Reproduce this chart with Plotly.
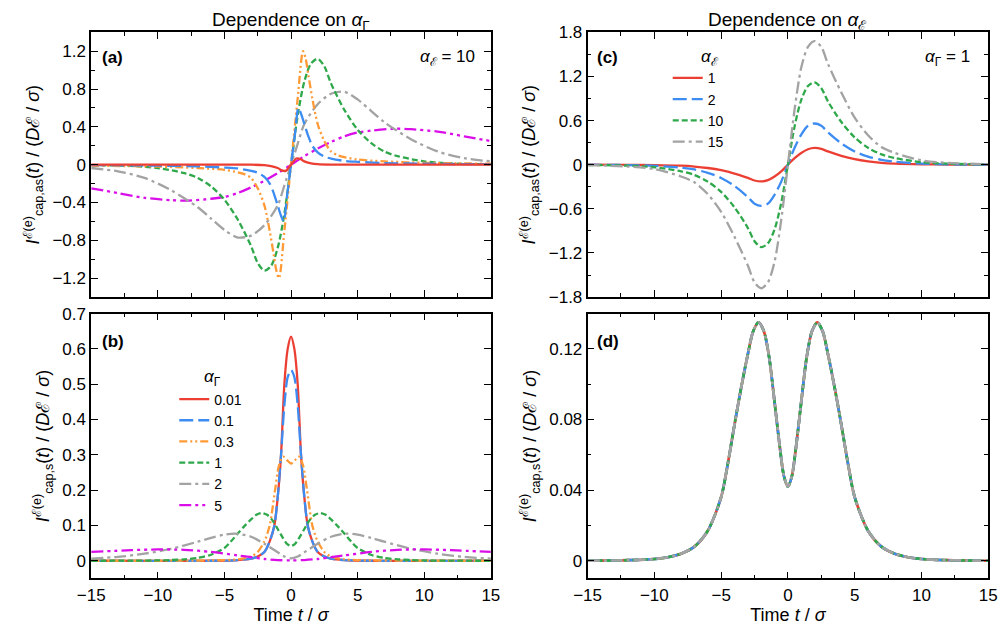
import plotly.graph_objects as go

# ---------------- data ----------------
# Panel (a): antisymmetric part, alpha_E = 10, various alpha_Gamma
a_t_red = [-15, -3, -2, -1.5, -1, -0.7, -0.4, 0, 0.4, 0.7, 1, 1.5, 2, 3, 15]
a_red = [0, 0, -0.005, -0.015, -0.035, -0.06, -0.065, 0, 0.065, 0.06, 0.035, 0.015, 0.005, 0, 0]

a_t_blue = [-15, -10, -7, -5, -4, -3, -2.5, -2, -1.6, -1.3, -1, -0.75, -0.55, -0.3, 0,
            0.3, 0.55, 0.75, 1, 1.3, 1.6, 2, 2.5, 3, 4, 5, 7, 10, 15]
a_blue = [-0.004, -0.01, -0.017, -0.03, -0.04, -0.065, -0.085, -0.13, -0.2, -0.3, -0.43, -0.54, -0.6, -0.33, 0,
          0.33, 0.6, 0.54, 0.43, 0.3, 0.2, 0.13, 0.085, 0.065, 0.04, 0.03, 0.017, 0.01, 0.004]

a_t_orange = [-15, -10, -7, -5, -4, -3.5, -3, -2.5, -2, -1.6, -1.3, -1.1, -0.9, -0.5, 0,
              0.5, 0.9, 1.1, 1.3, 1.6, 2, 2.5, 3, 3.5, 4, 5, 7, 10, 15]
a_orange = [-0.01, -0.02, -0.035, -0.055, -0.08, -0.1, -0.14, -0.25, -0.43, -0.7, -0.95, -1.12, -1.2, -0.7, 0,
            0.7, 1.2, 1.12, 0.95, 0.7, 0.43, 0.25, 0.14, 0.1, 0.08, 0.055, 0.035, 0.02, 0.01]

# alpha_Gamma = 1, alpha_E = 10 (shared by panels a and c)
g_t = [-15, -12, -10, -8, -7, -6, -5, -4, -3, -2.5, -2, -1.5, -1, -0.5, 0,
       0.5, 1, 1.5, 2, 2.5, 3, 4, 5, 6, 7, 8, 10, 12, 15]
g_v = [-0.004, -0.013, -0.035, -0.09, -0.14, -0.23, -0.37, -0.58, -0.86, -1.04, -1.12, -1.07, -0.88, -0.52, 0,
       0.52, 0.88, 1.07, 1.12, 1.04, 0.86, 0.58, 0.37, 0.23, 0.14, 0.09, 0.035, 0.013, 0.004]

a_t_gray = [-15, -13, -11, -9, -7, -6, -5, -4, -3, -2, -1, -0.5, 0,
            0.5, 1, 2, 3, 4, 5, 6, 7, 9, 11, 13, 15]
a_gray = [-0.035, -0.07, -0.14, -0.27, -0.45, -0.57, -0.69, -0.77, -0.75, -0.64, -0.43, -0.22, 0,
          0.22, 0.43, 0.64, 0.75, 0.77, 0.69, 0.57, 0.45, 0.27, 0.14, 0.07, 0.035]

a_t_mag = [-15, -13, -11, -9, -7.7, -6, -5, -4, -3, -2, -1, 0,
           1, 2, 3, 4, 5, 6, 7.7, 9, 11, 13, 15]
a_mag = [-0.25, -0.3, -0.35, -0.375, -0.38, -0.36, -0.34, -0.3, -0.24, -0.17, -0.09, 0,
         0.09, 0.17, 0.24, 0.3, 0.34, 0.36, 0.38, 0.375, 0.35, 0.3, 0.25]

# Panel (b): symmetric part
b_t_narrow = [-15, -6, -4, -3, -2.5, -2, -1.6, -1.25, -1, -0.75, -0.5, -0.25, 0,
              0.25, 0.5, 0.75, 1, 1.25, 1.6, 2, 2.5, 3, 4, 6, 15]
b_red = [0, 0, 0.002, 0.006, 0.012, 0.025, 0.055, 0.1, 0.18, 0.3, 0.5, 0.6, 0.635,
         0.6, 0.5, 0.3, 0.18, 0.1, 0.055, 0.025, 0.012, 0.006, 0.002, 0, 0]
b_blue = [0, 0, 0.002, 0.006, 0.012, 0.025, 0.055, 0.1, 0.18, 0.3, 0.44, 0.52, 0.54,
          0.52, 0.44, 0.3, 0.18, 0.1, 0.055, 0.025, 0.012, 0.006, 0.002, 0, 0]

b_t_orange = [-15, -6, -4, -3, -2.5, -2, -1.6, -1.2, -0.9, -0.6, -0.3, 0,
              0.3, 0.6, 0.9, 1.2, 1.6, 2, 2.5, 3, 4, 6, 15]
b_orange = [0, 0.001, 0.004, 0.012, 0.025, 0.055, 0.1, 0.2, 0.27, 0.295, 0.285, 0.275,
            0.285, 0.295, 0.27, 0.2, 0.1, 0.055, 0.025, 0.012, 0.004, 0.001, 0]

# alpha_Gamma = 1 symmetric part (shared by panels b and d)
s_t = [-15, -12, -10, -9, -8, -7, -6, -5, -4.5, -4, -3.5, -3, -2.6, -2.2, -1.8, -1.4, -1, -0.6, -0.3, 0,
       0.3, 0.6, 1, 1.4, 1.8, 2.2, 2.6, 3, 3.5, 4, 4.5, 5, 6, 7, 8, 9, 10, 12, 15]
s_v = [0, 0.0003, 0.001, 0.002, 0.004, 0.008, 0.017, 0.036, 0.055, 0.077, 0.098, 0.117, 0.13, 0.135, 0.13,
       0.115, 0.09, 0.064, 0.048, 0.042,
       0.048, 0.064, 0.09, 0.115, 0.13, 0.135, 0.13, 0.117, 0.098, 0.077, 0.055, 0.036, 0.017, 0.008, 0.004,
       0.002, 0.001, 0.0003, 0]

b_t_gray = [-15, -13, -11, -9, -7, -6, -5, -4.2, -3, -2, -1, -0.5, 0,
            0.5, 1, 2, 3, 4.2, 5, 6, 7, 9, 11, 13, 15]
b_gray = [0.006, 0.011, 0.02, 0.034, 0.054, 0.065, 0.074, 0.077, 0.068, 0.048, 0.024, 0.012, 0.007,
          0.012, 0.024, 0.048, 0.068, 0.077, 0.074, 0.065, 0.054, 0.034, 0.02, 0.011, 0.006]

b_t_mag = [-15, -12, -10, -8, -6, -4, -3, -2, -1, 0, 1, 2, 3, 4, 6, 8, 10, 12, 15]
b_mag = [0.025, 0.03, 0.032, 0.031, 0.025, 0.015, 0.01, 0.005, 0.002, 0.001,
         0.002, 0.005, 0.01, 0.015, 0.025, 0.031, 0.032, 0.03, 0.025]

# Panel (c): antisymmetric part, alpha_Gamma = 1, various alpha_E
c_t = [-15, -12, -10, -8, -7, -6, -5, -4, -3, -2.5, -2, -1.5, -1, -0.5, 0,
       0.5, 1, 1.5, 2, 2.5, 3, 4, 5, 6, 7, 8, 10, 12, 15]
c_red = [0, -0.002, -0.005, -0.014, -0.025, -0.045, -0.075, -0.12, -0.18, -0.215, -0.228, -0.21, -0.16, -0.09, 0,
         0.09, 0.16, 0.21, 0.228, 0.215, 0.18, 0.12, 0.075, 0.045, 0.025, 0.014, 0.005, 0.002, 0]
c_blue = [-0.001, -0.005, -0.015, -0.04, -0.065, -0.11, -0.18, -0.29, -0.44, -0.53, -0.56, -0.53, -0.41, -0.23, 0,
          0.23, 0.41, 0.53, 0.56, 0.53, 0.44, 0.29, 0.18, 0.11, 0.065, 0.04, 0.015, 0.005, 0.001]
c_gray = [-0.006, -0.025, -0.06, -0.16, -0.24, -0.4, -0.64, -0.98, -1.37, -1.6, -1.68, -1.6, -1.32, -0.75, 0,
          0.75, 1.32, 1.6, 1.68, 1.6, 1.37, 0.98, 0.64, 0.4, 0.24, 0.16, 0.06, 0.025, 0.006]

legend_b = ["0.01", "0.1", "0.3", "1", "2", "5"]
legend_c = ["1", "2", "10", "15"]

# ---------------- styles ----------------
RED, BLUE, ORANGE, GREEN, GRAY, MAG = "#ec3f33", "#3d8cf2", "#ff9a36", "#2ea84a", "#a3a3a3", "#d90ee8"
D_RED = "solid"
D_BLUE = "14px,5px"
D_ORANGE = "8px,3px,2px,3px,2px,3px"
D_GREEN = "6px,3px"
D_GRAY = "12px,4px,3px,4px"
D_MAG = "12px,4px,3px,4px,3px,4px"
FONT = "Liberation Sans, Arial, sans-serif"
W = 2.3

fig = go.Figure()


def add(x, y, color, dash, ax, name=None, legend=None, width=W):
    fig.add_trace(go.Scatter(
        x=x, y=y, mode="lines", name=name,
        line=dict(color=color, dash=dash, width=width, shape="spline", smoothing=0.8),
        xaxis="x" + ax, yaxis="y" + ax,
        showlegend=legend is not None, legend=legend or "legend",
        hoverinfo="skip"))


# panel a
add(a_t_mag, a_mag, MAG, D_MAG, "")
add(a_t_gray, a_gray, GRAY, D_GRAY, "")
add(g_t, g_v, GREEN, D_GREEN, "")
add(a_t_orange, a_orange, ORANGE, D_ORANGE, "")
add(a_t_blue, a_blue, BLUE, D_BLUE, "")
add(a_t_red, a_red, RED, D_RED, "")

# panel b (legend order: red, blue, orange, green, gray, magenta)
add(b_t_narrow, b_red, RED, D_RED, "2", legend_b[0], "legend")
add(b_t_narrow, b_blue, BLUE, D_BLUE, "2", legend_b[1], "legend")
add(b_t_orange, b_orange, ORANGE, D_ORANGE, "2", legend_b[2], "legend")
add(s_t, s_v, GREEN, D_GREEN, "2", legend_b[3], "legend")
add(b_t_gray, b_gray, GRAY, D_GRAY, "2", legend_b[4], "legend")
add(b_t_mag, b_mag, MAG, D_MAG, "2", legend_b[5], "legend")

# panel c
add(c_t, c_red, RED, D_RED, "3", legend_c[0], "legend2")
add(c_t, c_blue, BLUE, D_BLUE, "3", legend_c[1], "legend2")
add(g_t, g_v, GREEN, D_GREEN, "3", legend_c[2], "legend2")
add(c_t, c_gray, GRAY, D_GRAY, "3", legend_c[3], "legend2")

# panel d (all four curves coincide)
add(s_t, s_v, RED, D_RED, "4", width=2.7)
add(s_t, s_v, BLUE, D_BLUE, "4", width=2.7)
add(s_t, s_v, GREEN, D_GREEN, "4", width=2.7)
add(s_t, s_v, GRAY, D_GRAY, "4", width=2.7)

FW, FH = 1007, 634
XL = [79 / FW, 488 / FW]
XR = [587 / FW, 997 / FW]
YT = [1 - 297 / FH, 1 - 24 / FH]
YB = [1 - 587 / FH, 1 - 314 / FH]

tickfont = dict(family=FONT, size=17, color="black")
common = dict(showline=True, linecolor="black", linewidth=1.7, mirror="ticks",
              ticks="inside", ticklen=7, tickwidth=1.4, tickcolor="black",
              showgrid=False, zeroline=False, tickfont=tickfont)


def xax(domain, anchor, labels):
    d = dict(common)
    d.update(domain=domain, anchor=anchor, range=[-15, 15], tick0=0, dtick=5,
             showticklabels=labels,
             minor=dict(ticks="inside", ticklen=4, tickwidth=1.2, tickcolor="black", dtick=2.5))
    if labels:
        d["title"] = dict(text="Time <i>t</i> / <i>σ</i>", font=dict(family=FONT, size=18, color="black"),
                          standoff=4)
    return d


def yax(domain, anchor, rng, dtick, minor, title):
    d = dict(common)
    d.update(domain=domain, anchor=anchor, range=rng, tick0=0, dtick=dtick,
             title=dict(text=title, font=dict(family=FONT, size=18, color="black"), standoff=8))
    if minor:
        d["minor"] = dict(ticks="inside", ticklen=4, tickwidth=1.2, tickcolor="black", dtick=minor)
    return d


T_AS = "<i>I</i><sup>ℰ(e)</sup><sub>cap,as</sub>(<i>t</i>) / (<i>D</i>ℰ / <i>σ</i>)"
T_S = "<i>I</i><sup>ℰ(e)</sup><sub>cap,s</sub>(<i>t</i>) / (<i>D</i>ℰ / <i>σ</i>)"

fig.update_layout(
    width=FW, height=FH,
    margin=dict(l=0, r=0, t=0, b=0),
    paper_bgcolor="white", plot_bgcolor="white",
    font=dict(family=FONT, size=16, color="black"),
    xaxis=xax(XL, "y", False),
    yaxis=yax(YT, "x", [-1.4, 1.4], 0.4, 0.2, T_AS),
    xaxis2=xax(XL, "y2", True),
    yaxis2=yax(YB, "x2", [-0.05, 0.7], 0.1, None, T_S),
    xaxis3=xax(XR, "y3", False),
    yaxis3=yax(YT, "x3", [-1.8, 1.8], 0.6, 0.3, T_AS),
    xaxis4=xax(XR, "y4", True),
    yaxis4=yax(YB, "x4", [-0.01, 0.14], 0.04, 0.02, T_S),
    legend=dict(x=164 / FW, y=1 - 386 / FH, xanchor="left", yanchor="top",
                bgcolor="rgba(0,0,0,0)", font=dict(family=FONT, size=14), tracegroupgap=0),
    legend2=dict(x=669 / FW, y=1 - 55 / FH, xanchor="left", yanchor="top",
                 bgcolor="rgba(0,0,0,0)", font=dict(family=FONT, size=14), tracegroupgap=0),
)


def ann(text, px, py, xanchor="left", size=17, bold=False):
    if bold:
        text = "<b>" + text + "</b>"
    fig.add_annotation(text=text, x=px / FW, y=1 - py / FH, xref="paper", yref="paper",
                       xanchor=xanchor, yanchor="middle", showarrow=False,
                       font=dict(family=FONT, size=size, color="black"))


ann("Dependence on <i>α</i><sub>Γ</sub>", 283, 12, "center", size=19)
ann("Dependence on <i>α</i><sub>ℰ</sub>", 792, 12, "center", size=19)
ann("(a)", 88, 50, bold=True)
ann("<i>α</i><sub>ℰ</sub> = 10", 474, 50, "right")
ann("(b)", 88, 343, bold=True)
ann("<i>α</i><sub>Γ</sub>", 192, 380)
ann("(c)", 595, 50, bold=True)
ann("<i>α</i><sub>Γ</sub> = 1", 980, 50, "right")
ann("<i>α</i><sub>ℰ</sub>", 701, 50)
ann("(d)", 595, 343, bold=True)

fig.write_html("out.html")
